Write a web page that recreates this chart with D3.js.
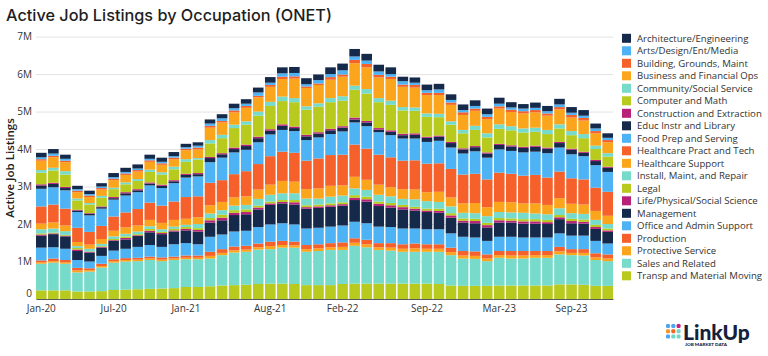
<!DOCTYPE html>
<html><head><meta charset="utf-8">
<script src="https://cdn.jsdelivr.net/npm/d3@7"></script>
<style>
html,body{margin:0;padding:0;background:#fff;}
svg{display:block;}
text{font-family:"Open Sans",sans-serif;}
</style></head>
<body>
<svg id="chart" width="768" height="356"></svg>
<script>
// ---- DATA (values in millions of active listings) ----
const months = ["Jan-20","Feb-20","Mar-20","Apr-20","May-20","Jun-20","Jul-20","Aug-20","Sep-20","Oct-20","Nov-20","Dec-20",
"Jan-21","Feb-21","Mar-21","Apr-21","May-21","Jun-21","Jul-21","Aug-21","Sep-21","Oct-21","Nov-21","Dec-21",
"Jan-22","Feb-22","Mar-22","Apr-22","May-22","Jun-22","Jul-22","Aug-22","Sep-22","Oct-22","Nov-22","Dec-22",
"Jan-23","Feb-23","Mar-23","Apr-23","May-23","Jun-23","Jul-23","Aug-23","Sep-23","Oct-23","Nov-23","Dec-23"];
const xTickLabels = ["Jan-20","Jul-20","Jan-21","Aug-21","Feb-22","Sep-22","Mar-23","Sep-23"];
const yTickValues = [0,1,2,3,4,5,6,7];
const occupations = ["Architecture/Engineering","Arts/Design/Ent/Media","Building, Grounds, Maint","Business and Financial Ops",
"Community/Social Service","Computer and Math","Construction and Extraction","Educ Instr and Library","Food Prep and Serving",
"Healthcare Pract and Tech","Healthcare Support","Install, Maint, and Repair","Legal","Life/Physical/Social Science",
"Management","Office and Admin Support","Production","Protective Service","Sales and Related","Transp and Material Moving"];

const archEng   = [0.12,0.12,0.11,0.09,0.09,0.09,0.11,0.11,0.11,0.11,0.11,0.11,0.09,0.09,0.11,0.11,0.12,0.12,0.13,0.15,0.16,0.16,0.16,0.15,0.18,0.18,0.20,0.18,0.18,0.18,0.12,0.14,0.15,0.15,0.15,0.15,0.15,0.15,0.16,0.14,0.12,0.14,0.14,0.15,0.15,0.15,0.13,0.12];
const artsMedia = [0.05,0.06,0.05,0.04,0.04,0.04,0.04,0.04,0.04,0.04,0.04,0.04,0.04,0.05,0.06,0.07,0.06,0.06,0.09,0.06,0.09,0.09,0.06,0.09,0.08,0.11,0.09,0.09,0.09,0.07,0.09,0.06,0.07,0.09,0.07,0.06,0.07,0.07,0.07,0.06,0.07,0.06,0.06,0.07,0.06,0.06,0.07,0.06];
const building  = [0.04,0.04,0.04,0.04,0.04,0.04,0.04,0.04,0.04,0.04,0.04,0.04,0.04,0.05,0.05,0.04,0.05,0.05,0.04,0.05,0.06,0.06,0.04,0.04,0.07,0.06,0.09,0.09,0.07,0.06,0.06,0.07,0.06,0.06,0.06,0.07,0.06,0.06,0.06,0.06,0.06,0.06,0.06,0.06,0.07,0.07,0.06,0.06];
const business  = [0.25,0.28,0.24,0.17,0.16,0.17,0.20,0.20,0.20,0.21,0.20,0.20,0.24,0.23,0.33,0.33,0.33,0.36,0.38,0.40,0.47,0.52,0.49,0.49,0.49,0.52,0.60,0.58,0.55,0.58,0.54,0.53,0.49,0.50,0.44,0.40,0.40,0.38,0.42,0.38,0.40,0.41,0.38,0.40,0.36,0.36,0.33,0.29];
const community = [0.07,0.07,0.09,0.05,0.04,0.05,0.04,0.05,0.05,0.06,0.06,0.07,0.07,0.04,0.09,0.09,0.09,0.09,0.11,0.11,0.12,0.11,0.09,0.09,0.11,0.12,0.11,0.12,0.11,0.11,0.09,0.09,0.09,0.09,0.09,0.09,0.11,0.11,0.12,0.11,0.11,0.11,0.11,0.11,0.11,0.11,0.09,0.09];
const computer  = [0.31,0.33,0.33,0.25,0.23,0.23,0.21,0.21,0.22,0.28,0.27,0.29,0.32,0.36,0.36,0.40,0.52,0.53,0.56,0.62,0.62,0.65,0.67,0.68,0.71,0.68,0.74,0.73,0.69,0.68,0.62,0.60,0.53,0.49,0.46,0.40,0.43,0.40,0.40,0.40,0.38,0.37,0.36,0.36,0.36,0.36,0.29,0.27];
const construct = [0.03,0.03,0.03,0.02,0.02,0.02,0.03,0.03,0.03,0.03,0.03,0.03,0.03,0.03,0.03,0.03,0.04,0.04,0.04,0.04,0.04,0.04,0.04,0.04,0.04,0.04,0.05,0.04,0.04,0.04,0.04,0.04,0.03,0.03,0.03,0.03,0.03,0.03,0.03,0.03,0.03,0.03,0.03,0.03,0.03,0.03,0.03,0.03];
const education = [0.09,0.09,0.06,0.04,0.04,0.04,0.04,0.06,0.05,0.05,0.06,0.05,0.07,0.06,0.11,0.09,0.09,0.10,0.11,0.10,0.11,0.08,0.10,0.10,0.10,0.10,0.08,0.10,0.07,0.09,0.09,0.10,0.11,0.11,0.12,0.11,0.11,0.11,0.12,0.12,0.12,0.13,0.12,0.12,0.12,0.09,0.11,0.11];
const foodPrep  = [0.47,0.46,0.49,0.42,0.44,0.46,0.45,0.45,0.45,0.46,0.47,0.49,0.52,0.53,0.55,0.60,0.58,0.57,0.58,0.58,0.58,0.58,0.55,0.56,0.56,0.62,0.59,0.60,0.60,0.59,0.59,0.58,0.58,0.60,0.57,0.56,0.60,0.58,0.62,0.61,0.62,0.62,0.65,0.64,0.64,0.62,0.60,0.53];
const hcPract   = [0.46,0.48,0.45,0.38,0.34,0.35,0.38,0.40,0.44,0.46,0.46,0.49,0.58,0.56,0.60,0.58,0.62,0.67,0.68,0.76,0.78,0.77,0.76,0.80,0.82,0.82,0.86,0.83,0.80,0.80,0.76,0.78,0.76,0.76,0.76,0.77,0.78,0.74,0.78,0.76,0.74,0.76,0.73,0.71,0.68,0.67,0.62,0.64];
const hcSupport = [0.15,0.16,0.15,0.11,0.11,0.13,0.15,0.17,0.16,0.17,0.17,0.18,0.16,0.18,0.22,0.22,0.22,0.23,0.25,0.27,0.33,0.31,0.25,0.27,0.29,0.27,0.31,0.27,0.27,0.24,0.26,0.26,0.24,0.27,0.24,0.25,0.27,0.24,0.27,0.27,0.25,0.27,0.25,0.27,0.25,0.25,0.24,0.22];
const install   = [0.11,0.11,0.10,0.05,0.07,0.06,0.07,0.07,0.07,0.07,0.07,0.06,0.06,0.11,0.12,0.12,0.12,0.12,0.18,0.18,0.18,0.18,0.18,0.16,0.18,0.18,0.18,0.18,0.18,0.18,0.16,0.20,0.20,0.18,0.18,0.15,0.15,0.18,0.16,0.16,0.17,0.15,0.15,0.18,0.15,0.15,0.13,0.12];
const legal     = [0.03,0.02,0.02,0.04,0.01,0.02,0.03,0.04,0.03,0.05,0.03,0.04,0.05,0.05,0.06,0.08,0.07,0.07,0.05,0.05,0.05,0.06,0.05,0.05,0.05,0.05,0.07,0.07,0.06,0.06,0.06,0.05,0.05,0.06,0.06,0.06,0.06,0.06,0.06,0.06,0.06,0.06,0.06,0.06,0.06,0.06,0.06,0.05];
const lifeSci   = [0.03,0.02,0.02,0.04,0.02,0.02,0.02,0.04,0.02,0.04,0.03,0.03,0.04,0.04,0.06,0.07,0.06,0.06,0.05,0.04,0.04,0.06,0.04,0.04,0.04,0.04,0.06,0.06,0.06,0.06,0.06,0.05,0.04,0.05,0.06,0.05,0.06,0.06,0.06,0.05,0.06,0.06,0.05,0.05,0.06,0.05,0.05,0.04];
const management= [0.32,0.35,0.33,0.24,0.24,0.22,0.26,0.25,0.29,0.34,0.34,0.34,0.34,0.34,0.38,0.38,0.44,0.44,0.47,0.52,0.53,0.53,0.53,0.53,0.53,0.53,0.58,0.58,0.55,0.52,0.51,0.48,0.46,0.44,0.42,0.38,0.38,0.36,0.38,0.38,0.37,0.37,0.36,0.38,0.33,0.32,0.32,0.31];
const office    = [0.34,0.30,0.30,0.21,0.18,0.21,0.23,0.25,0.29,0.31,0.28,0.33,0.33,0.30,0.40,0.39,0.40,0.40,0.44,0.46,0.47,0.46,0.44,0.44,0.44,0.45,0.44,0.44,0.44,0.43,0.42,0.40,0.40,0.40,0.38,0.38,0.37,0.36,0.38,0.38,0.36,0.36,0.36,0.36,0.36,0.36,0.33,0.29];
const production= [0.05,0.07,0.06,0.07,0.05,0.06,0.05,0.05,0.05,0.05,0.06,0.05,0.06,0.06,0.11,0.10,0.10,0.10,0.10,0.12,0.11,0.10,0.11,0.11,0.11,0.12,0.12,0.12,0.11,0.12,0.12,0.13,0.12,0.12,0.12,0.12,0.12,0.11,0.11,0.12,0.12,0.11,0.11,0.12,0.10,0.10,0.11,0.11];
const protective= [0.04,0.04,0.04,0.05,0.04,0.04,0.04,0.04,0.04,0.04,0.04,0.04,0.04,0.04,0.07,0.06,0.06,0.06,0.06,0.08,0.07,0.06,0.07,0.07,0.07,0.08,0.08,0.08,0.07,0.08,0.08,0.09,0.08,0.08,0.08,0.08,0.08,0.07,0.07,0.08,0.08,0.07,0.07,0.08,0.06,0.07,0.07,0.07];
const sales     = [0.71,0.74,0.71,0.51,0.53,0.63,0.73,0.75,0.75,0.77,0.73,0.75,0.74,0.74,0.74,0.81,0.87,0.88,0.92,0.92,0.96,0.97,0.89,0.91,0.94,0.91,1.01,0.97,0.90,0.88,0.85,0.85,0.85,0.86,0.81,0.73,0.72,0.66,0.74,0.72,0.72,0.74,0.74,0.80,0.78,0.78,0.69,0.66];
const transport = [0.23,0.23,0.23,0.20,0.20,0.21,0.24,0.25,0.26,0.27,0.28,0.29,0.32,0.32,0.34,0.36,0.37,0.38,0.40,0.41,0.41,0.40,0.37,0.37,0.37,0.40,0.41,0.41,0.41,0.41,0.41,0.41,0.41,0.40,0.36,0.35,0.35,0.35,0.36,0.36,0.36,0.36,0.36,0.39,0.39,0.38,0.35,0.35];

const seriesValues = [archEng,artsMedia,building,business,community,computer,construct,education,foodPrep,hcPract,
  hcSupport,install,legal,lifeSci,management,office,production,protective,sales,transport];

// ---- STYLE ----
const palette = ["#15294a","#4db3f5","#f5602b","#fba51c","#76dbcb","#b7ca1d","#b92079"];
const colorOf = i => palette[i % 7];

const svg = d3.select("#chart");
const plot = {left:36, right:613, top:36.6, bottom:299};

// table for stacking
const rows = months.map((m,j) => {
  const r = {month:m};
  occupations.forEach((o,i) => r[o] = seriesValues[i][j]);
  return r;
});
// bottom of stack = last legend item
const stackKeys = occupations.slice().reverse();
const stacked = d3.stack().keys(stackKeys)(rows);

const x = d3.scaleBand().domain(months).range([plot.left, plot.right]).paddingInner(0.12).paddingOuter(0);
const y = d3.scaleLinear().domain([0,7]).range([plot.bottom, plot.top]);

// title
const title = svg.append("text").attr("x",6).attr("y",21)
  .style("font-family","Inter, sans-serif").style("font-size","15px").style("font-weight","500")
  .attr("fill","#1e1e1e").text("Active Job Listings by Occupation (ONET)");
{
  const w = title.node().getComputedTextLength();
  title.style("font-size", (15*326/w).toFixed(2)+"px");
}

// gridlines
svg.append("g").attr("transform",`translate(${plot.left},0)`)
  .call(d3.axisLeft(y).tickValues(yTickValues.filter(v=>v>0)).tickSize(-(plot.right-plot.left)).tickFormat(""))
  .call(g=>g.select(".domain").remove())
  .call(g=>g.selectAll("line").attr("stroke","#e3e3e3").attr("stroke-width",1));

// bars
svg.append("g").selectAll("g").data(stacked).join("g")
  .attr("fill", d => colorOf(occupations.indexOf(d.key)))
  .selectAll("rect").data(d=>d).join("rect")
  .attr("x", d => x(d.data.month))
  .attr("width", x.bandwidth())
  .attr("y", d => y(d[1]))
  .attr("height", d => Math.max(0, y(d[0]) - y(d[1])));

// y axis labels
svg.append("g").attr("transform",`translate(${plot.left},0)`)
  .call(d3.axisLeft(y).tickValues(yTickValues).tickSize(0).tickPadding(4)
    .tickFormat(v => v===0 ? "0" : v+"M"))
  .call(g=>g.select(".domain").remove())
  .call(g=>g.selectAll("text").attr("fill","#333").style("font-size","10px").style("font-family","Open Sans, sans-serif"))
  .call(g=>g.selectAll(".tick").filter(v=>v===0).select("text").attr("dy","-0.22em"));

// x axis
svg.append("g").attr("transform",`translate(0,${plot.bottom})`)
  .call(d3.axisBottom(x).tickValues(xTickLabels).tickSize(0).tickPadding(5.5))
  .call(g=>g.select(".domain").attr("stroke","#5a5a5a").attr("stroke-width",1))
  .call(g=>g.selectAll("text").attr("fill","#333").style("font-size","10px").style("font-family","Open Sans, sans-serif"));

// y axis title
svg.append("text").attr("transform","translate(14,168) rotate(-90)")
  .attr("text-anchor","middle").style("font-size","11.5px").style("font-weight","600")
  .attr("fill","#222").text("Active Job Listings");

// legend
const legend = svg.append("g").attr("transform","translate(622,0)");
const li = legend.selectAll("g").data(occupations).join("g")
  .attr("transform",(d,i)=>`translate(0,${38.3 + i*12.5})`);
li.append("rect").attr("x",0).attr("y",-4.5).attr("width",9).attr("height",9).attr("fill",(d,i)=>colorOf(i));
li.append("text").attr("x",15).attr("y",0).attr("dy","0.35em")
  .style("font-size","9.6px").attr("fill","#333").text(d=>d);

// LinkUp logo
const logo = svg.append("g").attr("transform","translate(666,324)");
const dotColors = ["#4aa8f0","#4aa8f0","#c2237d","#f7931e","#f26522","#6fd6c8","#4aa8f0","#6fd6c8","#6fd6c8"];
dotColors.forEach((c,i)=>{
  logo.append("rect").attr("x",(i%3)*5.3).attr("y",Math.floor(i/3)*5.3).attr("width",4).attr("height",4).attr("rx",1.3).attr("fill",c);
});
logo.append("text").attr("x",17).attr("y",15.5).style("font-family","Lato, sans-serif").style("font-weight","900")
  .style("font-size","21px").attr("fill","#14213d").text("LinkUp");
logo.append("text").attr("x",19).attr("y",22).style("font-family","Lato, sans-serif").style("font-weight","900")
  .style("font-size","4.2px").attr("fill","#14213d").attr("textLength",42).attr("lengthAdjust","spacingAndGlyphs")
  .text("JOB MARKET DATA");
</script>
</body></html>
